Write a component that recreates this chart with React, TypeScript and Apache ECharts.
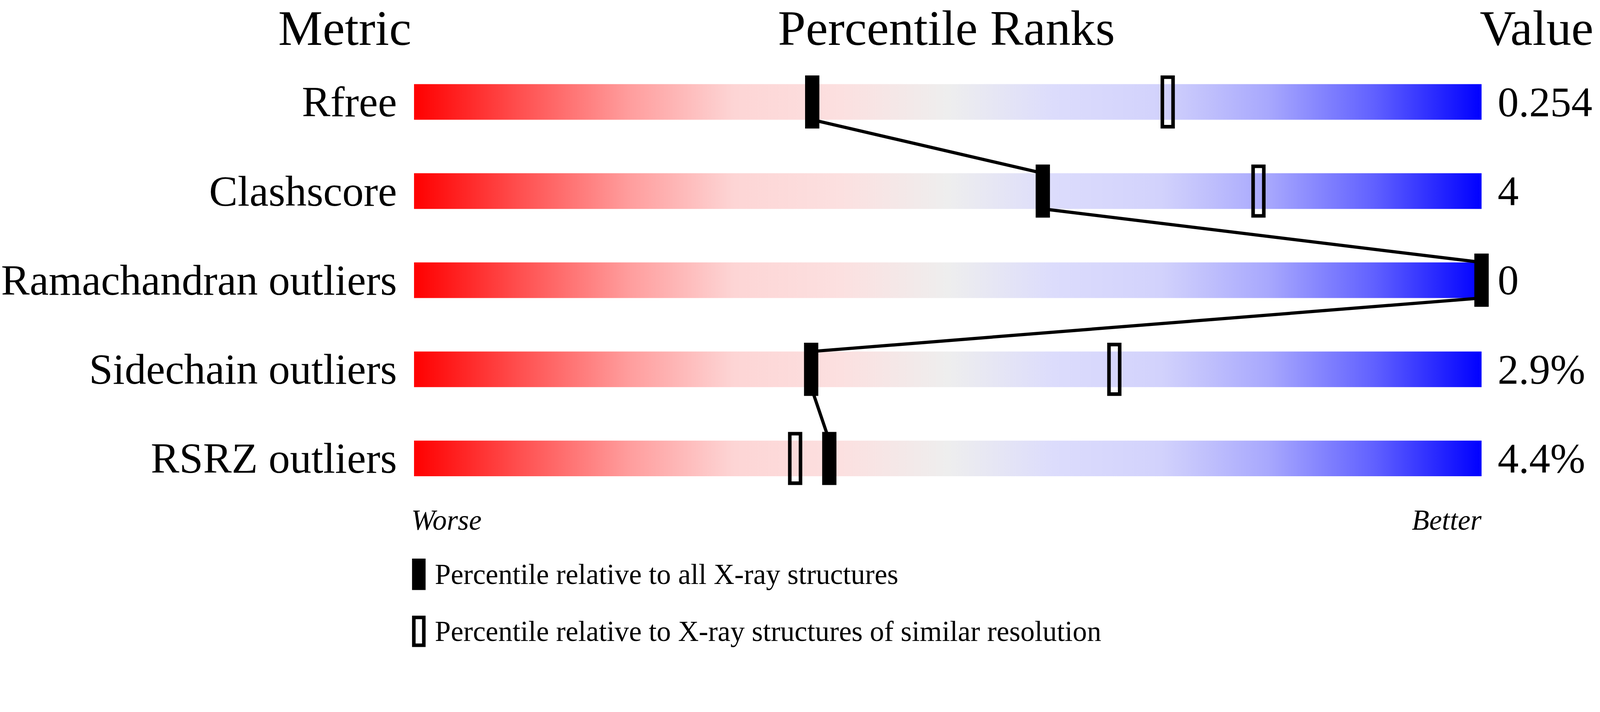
import React, { useEffect, useRef } from 'react';
import * as echarts from 'echarts';

// metrics, top to bottom
const metrics = ['Rfree', 'Clashscore', 'Ramachandran outliers', 'Sidechain outliers', 'RSRZ outliers'];
const metricValues = ['0.254', '4', '0', '2.9%', '4.4%'];
// percentile relative to all X-ray structures (filled markers)
const pctAll = [37.3, 58.9, 100, 37.2, 38.9];
// percentile relative to structures of similar resolution (hollow markers)
const pctSimilar = [70.6, 79.1, 100, 65.6, 35.7];
// every slider spans the whole percentile scale
const sliderSpan = [100, 100, 100, 100, 100];

const LEGEND_ALL = 'Percentile relative to all X-ray structures';
const LEGEND_SIMILAR = 'Percentile relative to X-ray structures of similar resolution';

// the layout is drawn on a 4485 x 1824 canvas and scaled to the window
const W = 4485;
const H = 1824;
const FONT = '"Liberation Serif", "Times New Roman", serif';
const BAR_H = 100;
const MARK_W = 40;
const MARK_H = 149;
const HOLLOW_LW = 10;

const sliderGradient = new echarts.graphic.LinearGradient(0, 0, 1, 0, [
  { offset: 0, color: '#ff0000' },
  { offset: 0.1, color: '#ff5050' },
  { offset: 0.2, color: '#ff9c9c' },
  { offset: 0.3, color: '#fdd5d5' },
  { offset: 0.4, color: '#fce0e0' },
  { offset: 0.5, color: '#eeeeee' },
  { offset: 0.6, color: '#dcdcfc' },
  { offset: 0.7, color: '#d2d2fc' },
  { offset: 0.8, color: '#a8a8fd' },
  { offset: 0.9, color: '#6060ff' },
  { offset: 1, color: '#0000ff' }
]);

export default function App() {
  const chartRef = useRef<HTMLDivElement>(null);
  const scale = typeof window !== 'undefined' ? window.innerWidth / W : 1;

  useEffect(() => {
    if (!chartRef.current) return;
    const chart = echarts.init(chartRef.current, null, { renderer: 'svg' });

    const links = pctAll.slice(0, -1).map((p, i) => [p, i, pctAll[i + 1], i + 1]);

    const headerStyle = { fontSize: 140, fontFamily: FONT, fill: '#000', verticalAlign: 'middle' };
    const footStyle = { fontSize: 80, fontStyle: 'italic', fontFamily: FONT, fill: '#000', verticalAlign: 'middle' };
    const labelBase = { fontFamily: FONT, color: '#000', padding: [18, 0, 0, 0] };

    const option = {
      animation: false,
      backgroundColor: '#ffffff',
      grid: { left: 1153, right: 332, top: 161, height: 1250, containLabel: false },
      xAxis: { type: 'value', min: 0, max: 100, show: false },
      yAxis: [
        {
          type: 'category',
          data: metrics,
          inverse: true,
          position: 'left',
          axisLine: { show: false },
          axisTick: { show: false },
          splitLine: { show: false },
          axisLabel: { ...labelBase, margin: 48, fontSize: 120 }
        },
        {
          type: 'category',
          data: metricValues,
          inverse: true,
          position: 'right',
          axisLine: { show: false },
          axisTick: { show: false },
          splitLine: { show: false },
          axisLabel: { ...labelBase, margin: 45, fontSize: 118 }
        }
      ],
      legend: {
        orient: 'vertical',
        left: 1150,
        top: 1562,
        itemWidth: 38,
        itemHeight: 88,
        itemGap: 72,
        selectedMode: false,
        data: [
          { name: LEGEND_ALL, icon: 'rect', itemStyle: { color: '#000', opacity: 1 } },
          {
            name: LEGEND_SIMILAR,
            icon: 'path://M0,0H38V88H0Z M10,10V78H28V10Z',
            itemStyle: { color: '#000', borderWidth: 0, opacity: 1 }
          }
        ],
        textStyle: { fontSize: 80, fontFamily: FONT, color: '#000', padding: [26, 0, 0, 21] }
      },
      graphic: [
        { type: 'text', x: 1153, y: 79, style: { ...headerStyle, text: 'Metric', align: 'right' } },
        { type: 'text', x: 2653, y: 79, style: { ...headerStyle, text: 'Percentile Ranks', align: 'center' } },
        { type: 'text', x: 4148, y: 79, style: { ...headerStyle, text: 'Value', align: 'left' } },
        { type: 'text', x: 1153, y: 1459, style: { ...footStyle, text: 'Worse', align: 'left' } },
        { type: 'text', x: 4153, y: 1459, style: { ...footStyle, text: 'Better', align: 'right' } }
      ],
      series: [
        {
          type: 'bar',
          data: sliderSpan,
          barWidth: BAR_H,
          silent: true,
          z: 1,
          itemStyle: { color: sliderGradient }
        },
        {
          // connector from the foot of one filled marker to the head of the next
          type: 'custom',
          z: 2,
          silent: true,
          encode: { x: [0, 2], y: [1, 3] },
          data: links,
          renderItem: (params: any, api: any) => {
            const a = api.coord([api.value(0), api.value(1)]);
            const b = api.coord([api.value(2), api.value(3)]);
            return {
              type: 'line',
              shape: { x1: a[0], y1: a[1] + BAR_H / 2, x2: b[0], y2: b[1] - BAR_H / 2 },
              style: { stroke: '#000', lineWidth: 9 }
            };
          }
        },
        {
          name: LEGEND_SIMILAR,
          type: 'custom',
          z: 3,
          silent: true,
          encode: { x: 0, y: 1 },
          data: pctSimilar.map((p, i) => [p, i]),
          itemStyle: { color: '#000' },
          renderItem: (params: any, api: any) => {
            const c = api.coord([api.value(0), api.value(1)]);
            const w = MARK_W - HOLLOW_LW;
            const h = MARK_H - HOLLOW_LW;
            return {
              type: 'rect',
              shape: { x: c[0] - w / 2, y: c[1] - h / 2, width: w, height: h },
              style: { fill: 'none', stroke: '#000', lineWidth: HOLLOW_LW }
            };
          }
        },
        {
          name: LEGEND_ALL,
          type: 'custom',
          z: 4,
          silent: true,
          encode: { x: 0, y: 1 },
          data: pctAll.map((p, i) => [p, i]),
          itemStyle: { color: '#000' },
          renderItem: (params: any, api: any) => {
            const c = api.coord([api.value(0), api.value(1)]);
            return {
              type: 'rect',
              shape: { x: c[0] - MARK_W / 2, y: c[1] - MARK_H / 2, width: MARK_W, height: MARK_H },
              style: { fill: '#000' }
            };
          }
        }
      ]
    } as any;

    chart.setOption(option);

    return () => {
      chart.dispose();
    };
  }, []);

  return (
    <div style={{ position: 'fixed', left: 0, top: 0, right: 0, bottom: 0, overflow: 'hidden', background: '#fff' }}>
      <div style={{ width: W, height: H, transform: `scale(${scale})`, transformOrigin: '0 0' }}>
        <div ref={chartRef} style={{ width: W, height: H }} />
      </div>
    </div>
  );
}
